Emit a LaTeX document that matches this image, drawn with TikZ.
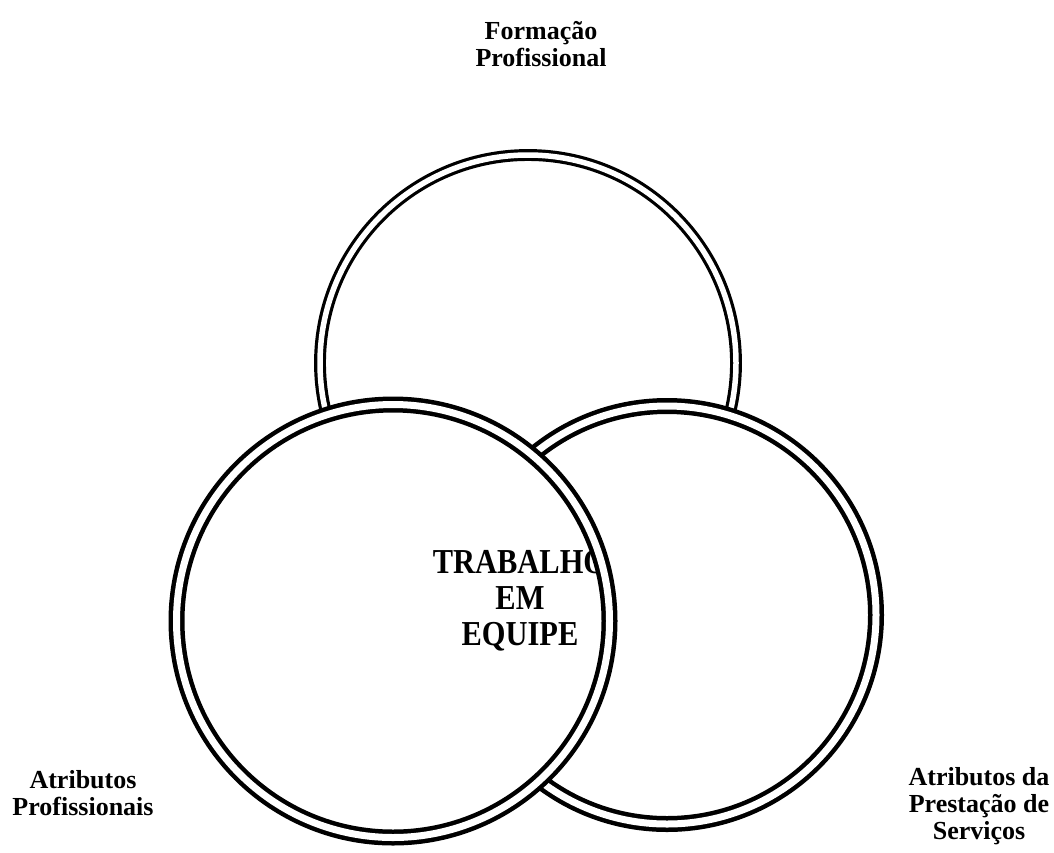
\documentclass[tikz,border=0pt]{standalone}
\usepackage{fontspec}
\setmainfont{Liberation Serif}
\newfontfamily\condserif[FakeStretch=0.87]{Liberation Serif}
\begin{document}
\begin{tikzpicture}[x=1pt,y=-1pt,
  ring/.style={circle, draw=black, double=white, line width=4.5pt, double distance=7pt, inner sep=0pt, outer sep=0pt},
  thinring/.style={ring, line width=3.2pt, double distance=5.5pt},
  lab/.style={font=\fontsize{26}{27}\selectfont\bfseries, align=center, inner sep=0pt},
  core/.style={font=\condserif\fontsize{35}{36}\selectfont\bfseries, align=center, inner sep=0pt}]
\useasboundingbox (0,0) rectangle (1054,852);
\node[thinring, minimum size=416pt] (T) at (528,363) {};
\node[ring, fill=white, minimum size=418pt] (R) at (667,615) {};
\fill[white] (393,621) circle[radius=216.5];
\node[core] (C) at (520,601) {TRABALHO\\EM\\EQUIPE};
\node[ring, minimum size=433pt] (L) at (393,621) {};
\node[lab] (F) at (541,44) {Formação\\Profissional};
\node[lab] (AP) at (83,793) {Atributos\\Profissionais};
\node[lab] (AS) at (979,806) {Atributos da\\Prestação de\\Serviços};
\end{tikzpicture}
\end{document}
